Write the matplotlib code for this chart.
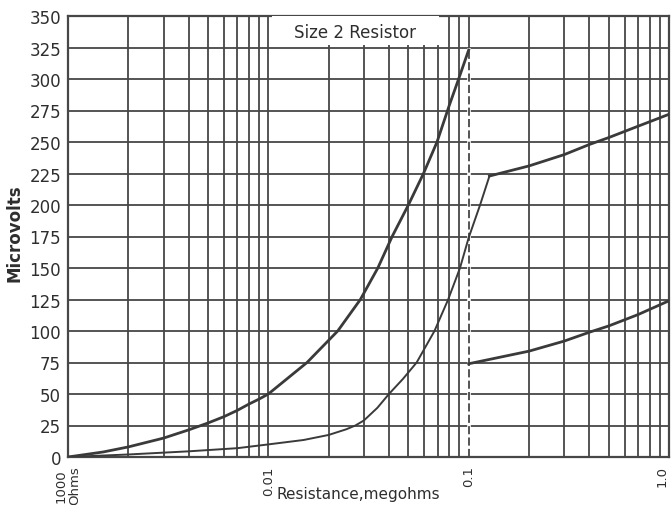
import matplotlib
matplotlib.use("Agg")
import matplotlib.pyplot as plt
from matplotlib.ticker import LogLocator, NullFormatter, FixedLocator
from matplotlib.patches import Rectangle
import numpy as np

# ---- data ----
curve_a_x = [0.001, 0.0015, 0.002, 0.003, 0.004, 0.005, 0.006, 0.007, 0.008, 0.009,
             0.01, 0.0156, 0.0222, 0.0288, 0.0352, 0.0415, 0.05, 0.0595, 0.0695,
             0.08, 0.09, 0.1]
curve_a_y = [0, 4, 8, 15, 21.5, 27, 32, 37, 42, 46,
             50, 75, 100, 125, 150, 175, 200, 225, 250,
             279, 302, 323]

curve_b_x = [0.001, 0.002, 0.004, 0.007, 0.01, 0.015, 0.02, 0.0245, 0.0272, 0.03,
             0.035, 0.04, 0.047, 0.055, 0.0675, 0.079, 0.0905, 0.1, 0.114, 0.127]
curve_b_y = [0, 2, 4.5, 7, 10, 13.5, 17.5, 22, 25, 29,
             39, 50, 62, 75, 100, 125, 150, 174, 200, 223]

upper_right_x = [0.127, 0.2, 0.3, 0.4, 0.5, 0.7, 1.0]
upper_right_y = [223, 231, 240, 248, 253.5, 262.5, 272]

lower_right_x = [0.1, 0.2, 0.3, 0.4, 0.5, 0.7, 1.0]
lower_right_y = [74, 84, 92, 99, 104, 113, 124]

divider_x = 0.1
divider_top = 323

x_ticks = [0.001, 0.01, 0.1, 1.0]
x_tick_labels = ["1000\nOhms", "0.01", "0.1", "1.0"]
y_ticks = [0, 25, 50, 75, 100, 125, 150, 175, 200, 225, 250, 275, 300, 325, 350]

title_text = "Size 2 Resistor"
x_label = "Resistance,megohms"
y_label = "Microvolts"

# ---- style ----
gc = "#474747"
lc = "#3a3a3a"
tc = "#2e2e2e"
plt.rcParams['font.family'] = ['DejaVu Sans']

fig = plt.figure(figsize=(6.72, 5.06), dpi=100)
fig.patch.set_facecolor("white")
ax = fig.add_axes([68/672, (506-458)/506, (669-68)/672, (458-17)/506])

ax.set_xscale("log")
ax.set_xlim(0.001, 1.0)
ax.set_ylim(0, 350)

ax.xaxis.set_major_locator(FixedLocator(x_ticks))
ax.set_xticklabels(x_tick_labels, rotation=90, fontsize=9.5, linespacing=1.0)
ax.get_xticklabels()[-1].set_ha("right")
ax.xaxis.set_minor_locator(LogLocator(base=10, subs=np.arange(2, 10)))
ax.xaxis.set_minor_formatter(NullFormatter())
ax.set_yticks(y_ticks)
ax.set_yticklabels([str(v) for v in y_ticks], fontsize=12)
ax.tick_params(which="both", length=0)
ax.tick_params(axis="y", pad=5, colors=tc)
ax.tick_params(axis="x", pad=6, colors=tc)

ax.grid(True, which="both", color=gc, lw=1.3)
for s in ax.spines.values():
    s.set_color(gc)
    s.set_linewidth(1.6)

# dashed divider at 0.1
ax.plot([divider_x, divider_x], [0, divider_top], color="white", lw=2.6, zorder=2)
ax.plot([divider_x, divider_x], [0, divider_top], color=gc, lw=1.3,
        linestyle=(0, (4.5, 1.8)), zorder=2.1)

# curves
ax.plot(curve_a_x, curve_a_y, color=lc, lw=2.0, zorder=3, solid_joinstyle="round")
ax.plot(curve_b_x, curve_b_y, color=lc, lw=1.4, zorder=3, solid_joinstyle="round")
ax.plot(upper_right_x, upper_right_y, color=lc, lw=2.0, zorder=3, solid_joinstyle="round")
ax.plot(lower_right_x, lower_right_y, color=lc, lw=2.0, zorder=3, solid_joinstyle="round")

# title box
ax.add_patch(Rectangle((0.34, 0.935), 0.277, 0.065, transform=ax.transAxes,
                       facecolor="white", edgecolor="none", zorder=4))
ax.text(0.478, 0.963, title_text, transform=ax.transAxes, ha="center", va="center",
        fontsize=12, color=tc, zorder=5)

fig.text(358/672, 1 - 495/506, x_label, ha="center", va="center", fontsize=11, color=tc)
fig.text(15/672, 1 - 233/506, y_label, ha="center", va="center", rotation=90,
         fontsize=12, fontweight="bold", color=tc)

fig.savefig("out.png", dpi=100, facecolor="white")
